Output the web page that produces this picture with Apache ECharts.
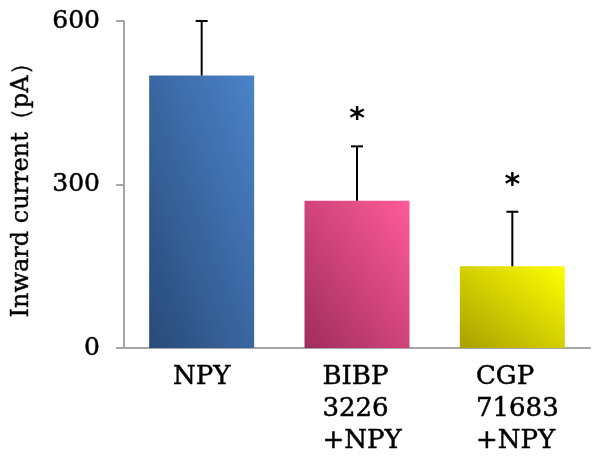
<!DOCTYPE html>
<html>
<head>
<meta charset="utf-8">
<script src="https://cdn.jsdelivr.net/npm/echarts@6/dist/echarts.min.js"></script>
<style>
  html, body { margin: 0; padding: 0; background: #fff; }
  #chart { width: 600px; height: 457px; }
</style>
</head>
<body>
<div id="chart"></div>
<script>
// Treatment groups and measured inward currents (pA)
const categories = ['NPY', 'BIBP\n3226\n+NPY', 'CGP\n71683\n+NPY'];
const meanCurrent = [500, 270, 150];
const errorUp = [100, 100, 100];
const significance = ['', '*', '*'];
const yTicks = [0, 300, 600];

// Diagonal gradient fills per bar: [bottom-left, top-right]
const barGradients = [
  ['#284a78', '#4b83ca'],
  ['#a02d5c', '#ff5b98'],
  ['#a8a000', '#ffff00']
];

const FONT = 'DejaVu Serif';
const BAR_W = 105;

const chart = echarts.init(document.getElementById('chart'), null, { renderer: 'canvas' });

const barData = meanCurrent.map((v, i) => [i, v]);
const errData = meanCurrent.map((v, i) => [i, v, v + errorUp[i]]);

// Bars with a gradient whose bands run along the bar's top-left/bottom-right diagonal
function renderBar(params, api) {
  const i = api.value(0);
  const base = api.coord([i, 0]);
  const top = api.coord([i, api.value(1)]);
  const w = BAR_W;
  const h = base[1] - top[1];
  const left = base[0] - w / 2;
  const k = 2 * w * h / (w * w + h * h);
  const fill = new echarts.graphic.LinearGradient(
    left, base[1], left + k * h, base[1] - k * w,
    [{ offset: 0, color: barGradients[i][0] }, { offset: 1, color: barGradients[i][1] }],
    true
  );
  return {
    type: 'rect',
    shape: { x: left, y: top[1], width: w, height: h },
    style: { fill: fill }
  };
}

// Upper error whisker with cap, plus significance marker above it
function renderError(params, api) {
  const i = api.value(0);
  const base = api.coord([i, api.value(1)]);
  const top = api.coord([i, api.value(2)]);
  const children = [
    { type: 'line', shape: { x1: base[0], y1: base[1], x2: top[0], y2: top[1] },
      style: { stroke: '#000', lineWidth: 2 } },
    { type: 'line', shape: { x1: top[0] - 6, y1: top[1], x2: top[0] + 6, y2: top[1] },
      style: { stroke: '#000', lineWidth: 2 } }
  ];
  if (significance[i]) {
    children.push({
      type: 'text',
      style: {
        text: significance[i], x: top[0], y: top[1] - 26,
        align: 'center', verticalAlign: 'middle',
        fill: '#000', font: 'bold 30px "DejaVu Sans"'
      }
    });
  }
  return { type: 'group', children };
}

chart.setOption({
  animation: false,
  backgroundColor: '#ffffff',
  grid: { left: 124, right: 10, top: 21, bottom: 109, containLabel: false, outerBoundsMode: 'none' },
  xAxis: {
    type: 'category',
    data: categories,
    axisLine: { lineStyle: { color: '#a6a6a6', width: 2 } },
    axisTick: { show: false },
    axisLabel: {
      interval: 0,
      margin: 13,
      color: '#000',
      fontFamily: FONT,
      fontSize: 26,
      lineHeight: 32,
      formatter: v => {
        const lines = v.split('\n');
        const tag = lines.length > 1 ? 'm' : 'l';
        return lines.map(s => '{' + tag + '|' + s + '}').join('\n');
      },
      rich: {
        l: {
          align: 'left', fontFamily: FONT, fontSize: 26, lineHeight: 32, color: '#000',
          textBorderColor: '#000', textBorderWidth: 0.5
        },
        m: {
          align: 'left', fontFamily: FONT, fontSize: 26, lineHeight: 32, color: '#000',
          textBorderColor: '#000', textBorderWidth: 0.5, padding: [0, 0, 0, 10]
        }
      }
    }
  },
  yAxis: {
    type: 'value',
    min: yTicks[0],
    max: yTicks[yTicks.length - 1],
    interval: yTicks[1] - yTicks[0],
    name: 'Inward current（pA）',
    nameLocation: 'middle',
    nameRotate: 90,
    nameGap: 90,
    nameTextStyle: {
      color: '#000', fontFamily: FONT, fontSize: 24,
      textBorderColor: '#000', textBorderWidth: 0.4
    },
    axisLine: { show: true, lineStyle: { color: '#a6a6a6', width: 2 } },
    axisTick: { show: true, length: 8, lineStyle: { color: '#a6a6a6', width: 2 } },
    axisLabel: {
      margin: 24, color: '#000', fontFamily: FONT, fontSize: 25,
      textBorderColor: '#000', textBorderWidth: 0.5
    },
    splitLine: { show: false }
  },
  series: [
    {
      type: 'custom',
      data: barData,
      renderItem: renderBar,
      encode: { x: 0, y: 1 }
    },
    {
      type: 'custom',
      data: errData,
      z: 5,
      renderItem: renderError,
      encode: { x: 0, y: [1, 2] }
    }
  ]
});
</script>
</body>
</html>
